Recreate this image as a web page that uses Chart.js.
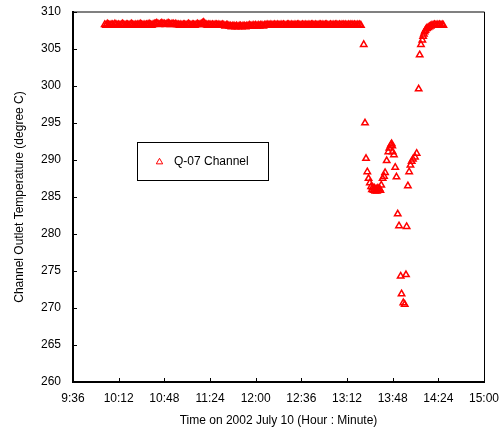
<!DOCTYPE html>
<html>
<head>
<meta charset="utf-8">
<script src="https://cdn.jsdelivr.net/npm/chart.js@4/dist/chart.umd.min.js"></script>
<style>
  html, body { margin: 0; padding: 0; background: #fff; }
  canvas { display: block; }
</style>
</head>
<body>
<canvas id="chart" width="501" height="436"></canvas>
<script>
// ---- data -------------------------------------------------------------
const seriesLabel = 'Q-07 Channel';
const xTitle = 'Time on 2002 July 10 (Hour : Minute)';
const yTitle = 'Channel Outlet Temperature (degree C)';
const xTickLabels = ['9:36', '10:12', '10:48', '11:24', '12:00', '12:36', '13:12', '13:48', '14:24', '15:00'];
const yRange = [260, 310];
const yStep = 5;

// steady operation, logged once a minute from 10:01 to 13:23
const plateauStart = '10:01';
const plateauStepMin = 1;
const plateauTemps = [
  308.3, 308.2, 308.4, 308.3, 308.2, 308.3, 308.3, 308.2, 308.4, 308.3, 308.2, 308.3, 308.2, 308.3, 308.4, 308.3, 308.2, 308.3, 308.3, 308.2,
  308.3, 308.4, 308.3, 308.2, 308.3, 308.2, 308.3, 308.3, 308.4, 308.3, 308.2, 308.3, 308.2, 308.3, 308.3, 308.4, 308.3, 308.2, 308.3, 308.4,
  308.4, 308.5, 308.4, 308.3, 308.4, 308.5, 308.4, 308.4, 308.3, 308.4, 308.5, 308.4, 308.3, 308.4, 308.4, 308.3, 308.4, 308.3, 308.3, 308.2,
  308.3, 308.2, 308.3, 308.3, 308.2, 308.3, 308.4, 308.3, 308.2, 308.3, 308.3, 308.2, 308.3, 308.4, 308.3, 308.3, 308.4, 308.5, 308.6, 308.4,
  308.3, 308.2, 308.3, 308.3, 308.2, 308.3, 308.2, 308.3, 308.3, 308.2, 308.3, 308.2, 308.2, 308.3, 308.2, 308.1, 308.2, 308.2, 308.1, 308.1,
  308.0, 308.1, 308.1, 308.0, 308.1, 308.0, 308.1, 308.1, 308.0, 308.1, 308.1, 308.0, 308.1, 308.1, 308.2, 308.1, 308.1, 308.2, 308.1, 308.2,
  308.1, 308.2, 308.1, 308.2, 308.2, 308.1, 308.2, 308.2, 308.3, 308.2, 308.2, 308.3, 308.2, 308.2, 308.3, 308.2, 308.3, 308.2, 308.2, 308.3,
  308.2, 308.3, 308.2, 308.2, 308.3, 308.3, 308.2, 308.3, 308.2, 308.2, 308.3, 308.2, 308.3, 308.3, 308.2, 308.2, 308.3, 308.2, 308.3, 308.2,
  308.2, 308.3, 308.2, 308.3, 308.3, 308.2, 308.3, 308.2, 308.2, 308.3, 308.3, 308.2, 308.3, 308.2, 308.3, 308.3, 308.2, 308.2, 308.3, 308.2,
  308.3, 308.2, 308.3, 308.3, 308.2, 308.3, 308.2, 308.3, 308.3, 308.2, 308.3, 308.2, 308.3, 308.2, 308.3, 308.3, 308.2, 308.3, 308.2, 308.3,
  308.2, 308.3, 308.2
];

// transient: drop, oscillation and recovery
const transientTimes = [
  '13:25:12', '13:26:12', '13:27:00', '13:28:00', '13:29:00', '13:30:00', '13:31:00', '13:31:40', '13:32:20', '13:33:00',
  '13:33:40', '13:34:20', '13:35:00', '13:35:40', '13:36:20', '13:37:00', '13:37:40', '13:38:20', '13:39:00', '13:40:06',
  '13:41:12', '13:42:00', '13:43:18', '13:44:36', '13:45:24', '13:46:30', '13:47:12', '13:47:42', '13:48:00', '13:49:00',
  '13:50:00', '13:51:00', '13:52:00', '13:53:00', '13:54:18', '13:55:00', '13:56:24', '13:57:30', '13:58:30', '13:59:00',
  '14:00:00', '14:01:00', '14:02:00', '14:03:00', '14:04:00', '14:05:36', '14:06:54', '14:08:30', '14:09:18', '14:10:18',
  '14:11:24', '14:12:00', '14:12:36', '14:13:12', '14:13:48', '14:14:24', '14:15:00', '14:16:00', '14:17:00', '14:18:00',
  '14:19:00', '14:20:00', '14:21:00', '14:22:00', '14:23:00', '14:24:00', '14:25:00', '14:26:00', '14:27:00', '14:28:00'
];
const transientTemps = [
  305.6, 295.0, 290.2, 288.4, 287.5, 286.9, 286.4, 286.0, 286.3, 285.9,
  286.2, 285.8, 286.1, 285.8, 286.2, 285.9, 286.1, 285.9, 286.6, 287.5,
  287.8, 288.3, 289.9, 291.1, 291.6, 292.0, 292.2, 291.9, 291.1, 290.7,
  289.0, 287.7, 282.7, 281.1, 274.3, 271.9, 270.7, 270.5, 274.5, 281.0,
  286.5, 288.4, 289.3, 289.8, 290.1, 290.4, 290.9, 299.6, 304.2, 305.6,
  306.2, 306.7, 307.0, 307.3, 307.5, 307.7, 307.8, 307.9, 308.0, 308.1,
  308.2, 308.2, 308.3, 308.2, 308.3, 308.2, 308.3, 308.2, 308.3, 308.2
];

// ---- helpers ----------------------------------------------------------
function toMinutes(t) {
  const p = t.split(':').map(Number);
  return p[0] * 60 + p[1] + (p[2] || 0) / 60;
}

const points = [];
const t0 = toMinutes(plateauStart);
plateauTemps.forEach((v, i) => points.push({ x: t0 + i * plateauStepMin, y: v }));
transientTimes.forEach((t, i) => points.push({ x: toMinutes(t), y: transientTemps[i] }));

const FONT = 'Arial, "Liberation Sans", sans-serif';
const RED = '#ff0000';
const MARK = { pointStyle: 'triangle', radius: 3.7, borderWidth: 1.5 };

Chart.defaults.font.family = FONT;
Chart.defaults.color = '#000';

// fixed axis boxes so the plot area sits where the layout padding says
function fixBox(size) {
  return s => {
    if (s.isHorizontal()) s.height = size; else s.width = size;
    s.paddingTop = 0; s.paddingBottom = 0; s.paddingLeft = 0; s.paddingRight = 0;
  };
}

// plot frame, inward tick marks and the boxed legend
const framePlugin = {
  id: 'frame',
  afterDatasetsDraw(chart) {
    const { ctx, chartArea: a, scales: { x, y } } = chart;
    ctx.save();
    // top border (grey) and right border
    ctx.strokeStyle = '#808080';
    ctx.lineWidth = 2;
    ctx.beginPath(); ctx.moveTo(a.left, a.top); ctx.lineTo(a.right + 0.5, a.top); ctx.stroke();
    ctx.strokeStyle = '#000';
    ctx.lineWidth = 1;
    ctx.beginPath(); ctx.moveTo(a.right + 0.5, a.top); ctx.lineTo(a.right + 0.5, a.bottom); ctx.stroke();
    // axes
    ctx.lineWidth = 2;
    ctx.beginPath();
    ctx.moveTo(a.left, a.top - 1); ctx.lineTo(a.left, a.bottom);
    ctx.lineTo(a.right + 1, a.bottom);
    ctx.stroke();
    // tick marks pointing into the plot
    ctx.lineWidth = 1;
    ctx.beginPath();
    x.ticks.forEach(t => {
      const px = Math.round(x.getPixelForValue(t.value)) + 0.5;
      ctx.moveTo(px, a.bottom); ctx.lineTo(px, a.bottom - 4);
    });
    y.ticks.forEach(t => {
      const py = Math.round(y.getPixelForValue(t.value)) + 0.5;
      ctx.moveTo(a.left, py); ctx.lineTo(a.left + 4, py);
    });
    ctx.stroke();

    // legend box
    const bx = 137.5, by = 142.5, bw = 131, bh = 38;
    ctx.fillStyle = '#fff';
    ctx.fillRect(bx, by, bw, bh);
    ctx.strokeStyle = '#000';
    ctx.lineWidth = 1;
    ctx.strokeRect(bx, by, bw, bh);
    ctx.strokeStyle = RED;
    ctx.fillStyle = 'rgba(0,0,0,0)';
    Chart.helpers.drawPoint(ctx, MARK, 159.5, 162);
    ctx.fillStyle = '#000';
    ctx.font = '12px ' + FONT;
    ctx.textAlign = 'left';
    ctx.textBaseline = 'middle';
    ctx.fillText(chart.data.datasets[0].label, 174, 162);
    ctx.restore();
  }
};

new Chart(document.getElementById('chart'), {
  type: 'scatter',
  data: {
    datasets: [{
      label: seriesLabel,
      data: points,
      pointStyle: 'triangle',
      pointRadius: MARK.radius,
      pointBorderWidth: MARK.borderWidth,
      pointBorderColor: RED,
      pointBackgroundColor: 'rgba(0,0,0,0)',
      showLine: false
    }]
  },
  options: {
    responsive: false,
    animation: false,
    devicePixelRatio: 1,
    layout: { padding: { left: 0, top: 12, right: 17, bottom: 0 } },
    plugins: { legend: { display: false }, tooltip: { enabled: false } },
    scales: {
      x: {
        type: 'linear',
        min: toMinutes(xTickLabels[0]),
        max: toMinutes(xTickLabels[xTickLabels.length - 1]),
        grid: { display: false, drawTicks: false },
        border: { display: false },
        ticks: {
          stepSize: 36,
          padding: 9,
          maxRotation: 0,
          autoSkip: false,
          font: { size: 12 },
          callback: (v, i) => xTickLabels[i]
        },
        title: { display: true, text: xTitle, font: { size: 12 }, padding: { top: 0, bottom: 8 } },
        afterFit: fixBox(54)
      },
      y: {
        min: yRange[0],
        max: yRange[1],
        grid: { display: false, drawTicks: false },
        border: { display: false },
        ticks: { stepSize: yStep, padding: 12, font: { size: 12 } },
        title: { display: true, text: yTitle, font: { size: 12 }, padding: { top: 12, bottom: 0 } },
        afterFit: fixBox(73)
      }
    }
  },
  plugins: [framePlugin]
});
</script>
</body>
</html>
